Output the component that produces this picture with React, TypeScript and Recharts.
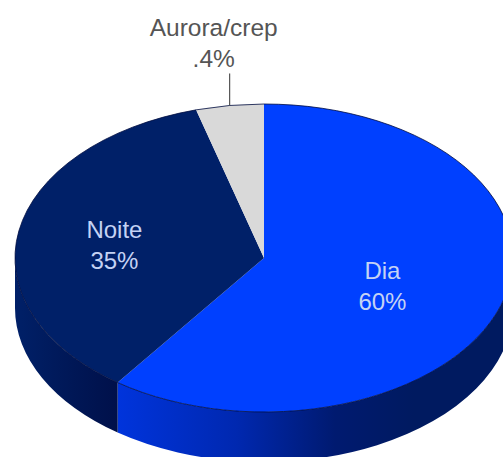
import React from "react";
import { PieChart, Pie } from "recharts";

const categories = ["Dia", "Noite", "Aurora/crep"];
const seriesValues = [60, 35.6, 4.4];
const percentLabels = ["60%", "35%", ".4%"];

const TOP_COLORS = ["#0040ff", "#002068", "#d9d9d9"];
const WALL_STOPS: [number, string][][] = [
  [[0, "#0034dc"], [0.3, "#0028b0"], [0.55, "#001a70"], [0.75, "#001a60"], [1, "#001a60"]],
  [[0, "#002068"], [0.5, "#001858"], [1, "#00104a"]],
  [[0, "#a0a0a0"], [1, "#a0a0a0"]],
];
const LABEL_RADIUS = [0.5, 0.61, 1];
const WIDTH = 503;
const HEIGHT = 457;
const CX = 264;
const CY = 258;
const RX = 249;
const RY = 154;
const DEPTH = 50;
const SQUASH = RY / RX;

const chartData = categories.map((name, i) => ({ name, value: seriesValues[i], pct: percentLabels[i], idx: i }));

const pt = (a: number, dy = 0) => {
  const r = (a * Math.PI) / 180;
  return [CX + RX * Math.cos(r), CY - RY * Math.sin(r) + dy];
};

const TopFace = (p: any) => {
  const i = p.idx ?? p.payload?.idx ?? 0;
  const [x0, y0] = pt(p.startAngle);
  const [x1, y1] = pt(p.endAngle);
  const large = Math.abs(p.startAngle - p.endAngle) > 180 ? 1 : 0;
  return (
    <g>
      <path d={`M${CX},${CY} L${x0},${y0} A${p.outerRadius},${p.outerRadius * SQUASH} 0 ${large} 1 ${x1},${y1} Z`} fill={TOP_COLORS[i]} stroke="none" />
      <path d={`M${x0},${y0} A${p.outerRadius},${p.outerRadius * SQUASH} 0 ${large} 1 ${x1},${y1}`} fill="none" stroke="#000c40" strokeWidth={0.8} />
    </g>
  );
};

const SideWall = (p: any) => {
  const i = p.idx ?? p.payload?.idx ?? 0;
  const a0 = Math.min(p.startAngle, 0);
  const a1 = Math.max(p.endAngle, -180);
  if (a0 <= a1) return <g />;
  const [x0, y0] = pt(a0);
  const [x1, y1] = pt(a1);
  const rx = p.outerRadius;
  const ry = rx * SQUASH;
  const id = `wall-${i}`;
  const lo = Math.min(x0, x1);
  const hi = Math.max(x0, x1);
  return (
    <g>
      <defs>
        <linearGradient id={id} gradientUnits="userSpaceOnUse" x1={lo} y1={0} x2={hi} y2={0}>
          {WALL_STOPS[i].map(([o, c]) => (
            <stop key={o} offset={o} stopColor={c} />
          ))}
        </linearGradient>
      </defs>
      <path
        d={`M${x0},${y0} A${rx},${ry} 0 0 1 ${x1},${y1} L${x1},${y1 + DEPTH} A${rx},${ry} 0 0 0 ${x0},${y0 + DEPTH} Z`}
        fill={`url(#${id})`}
        stroke="none"
      />
    </g>
  );
};

const renderLabel = (p: any) => {
  const i = p.index;
  const r = (p.midAngle * Math.PI) / 180;
  const fontFamily = "'Liberation Sans', Arial, sans-serif";
  if (i === 2) {
    const [x, y] = pt(p.midAngle);
    return (
      <g>
        <line x1={x} y1={y} x2={x} y2={y - 32} stroke="#333333" strokeWidth={1} />
        <text x={x - 16} y={36} textAnchor="middle" fontFamily={fontFamily} fontSize={24.5} fill="#555555">
          <tspan x={x - 16}>{categories[i]}</tspan>
          <tspan x={x - 16} dy={31}>{percentLabels[i]}</tspan>
        </text>
      </g>
    );
  }
  const lx = CX + RX * LABEL_RADIUS[i] * Math.cos(r);
  const ly = CY - RY * 0.55 * Math.sin(r);
  return (
    <text x={lx} y={ly - 5} textAnchor="middle" fontFamily={fontFamily} fontSize={24} fill="#c4d2f4">
      <tspan x={lx}>{categories[i]}</tspan>
      <tspan x={lx} dy={31}>{percentLabels[i]}</tspan>
    </text>
  );
};

export default function App() {
  return (
    <div style={{ position: "absolute", left: 0, top: 0, width: WIDTH, height: HEIGHT, overflow: "hidden", background: "#fff" }}>
      <PieChart width={WIDTH} height={HEIGHT} margin={{ top: 0, right: 0, bottom: 0, left: 0 }}>
        <Pie
          data={chartData}
          dataKey="value"
          nameKey="name"
          cx={CX}
          cy={CY}
          outerRadius={RX}
          startAngle={90}
          endAngle={-270}
          stroke="none"
          isAnimationActive={false}
          shape={SideWall}
        />
        <Pie
          data={chartData}
          dataKey="value"
          nameKey="name"
          cx={CX}
          cy={CY}
          outerRadius={RX}
          startAngle={90}
          endAngle={-270}
          stroke="none"
          isAnimationActive={false}
          shape={TopFace}
          label={renderLabel}
          labelLine={false}
        />
      </PieChart>
    </div>
  );
}
